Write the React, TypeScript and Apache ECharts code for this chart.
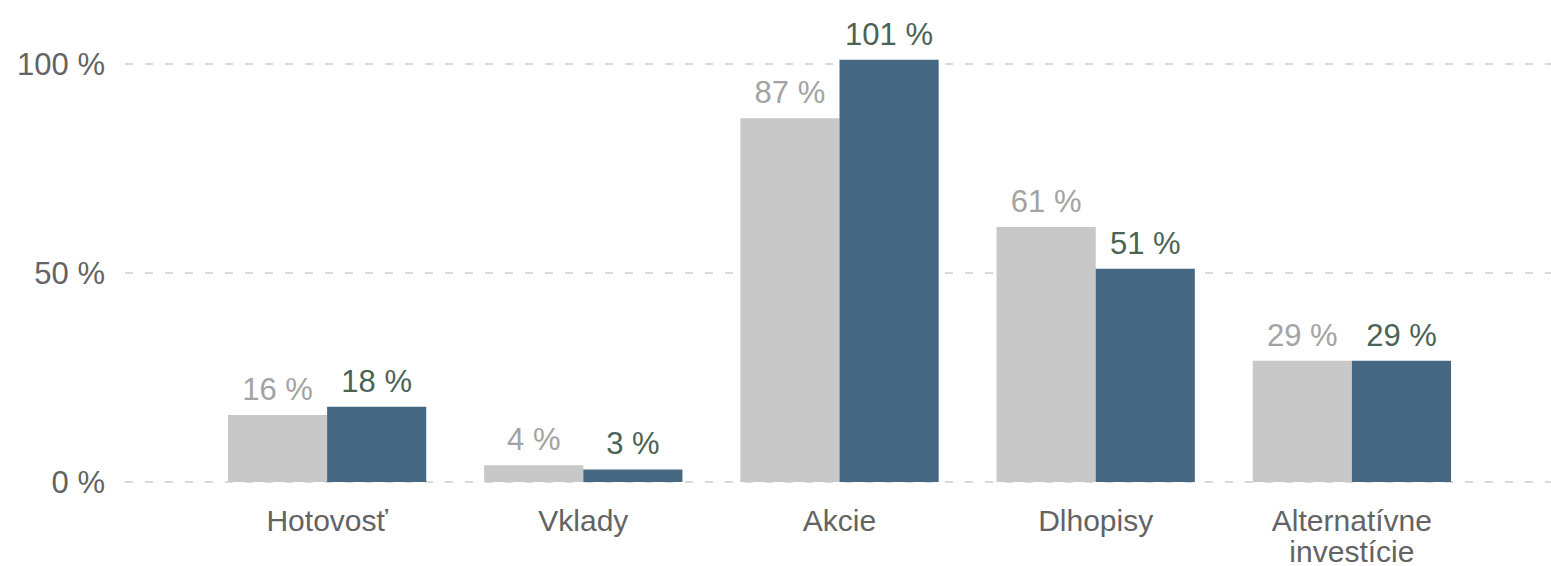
import React, { useEffect, useRef } from "react";
import * as echarts from "echarts";

const categories = ["Hotovosť", "Vklady", "Akcie", "Dlhopisy", "Alternatívne\ninvestície"];
const seriesGrey = [16, 4, 87, 61, 29];
const seriesBlue = [18, 3, 101, 51, 29];
const yTicks = { min: 0, max: 100, interval: 50 };

export default function App() {
  const ref = useRef<HTMLDivElement>(null);
  useEffect(() => {
    document.body.style.margin = "0";
    const chart = echarts.init(ref.current!, null, { renderer: "svg" });
    const font = "Liberation Sans, Arial, sans-serif";
    chart.setOption({
      animation: false,
      backgroundColor: "#ffffff",
      textStyle: { fontFamily: font },
      grid: [
        { left: 199, right: 71, top: 64, bottom: 84, containLabel: false, outerBoundsMode: "none" },
        { left: 125, right: 0, top: 64, bottom: 84, containLabel: false, outerBoundsMode: "none" },
      ],
      xAxis: [
        {
          type: "category",
          gridIndex: 0,
          data: categories,
          axisLine: { show: false },
          axisTick: { show: false },
          axisLabel: {
            color: "#636363",
            fontSize: 30,
            fontFamily: font,
            margin: 23,
            lineHeight: 31,
            interval: 0,
          },
        },
        { type: "value", gridIndex: 1, min: 0, max: 1, show: false },
      ],
      yAxis: [
        {
          type: "value",
          gridIndex: 0,
          ...yTicks,
          show: false,
          splitLine: { show: false },
        },
        {
          type: "value",
          gridIndex: 1,
          ...yTicks,
          axisLine: { show: false },
          axisTick: { show: false },
          axisLabel: {
            formatter: "{value} %",
            color: "#636363",
            fontSize: 31,
            fontFamily: font,
            margin: 20,
          },
          splitLine: {
            show: true,
            lineStyle: { color: "#d9d9d9", width: 2, type: [8, 12] },
          },
        },
      ],
      series: [
        {
          type: "bar",
          xAxisIndex: 0,
          yAxisIndex: 0,
          data: seriesGrey,
          clip: false,
          barGap: "0%",
          barCategoryGap: "22.6%",
          itemStyle: { color: "#c8c8c8" },
          label: {
            show: true,
            position: "top",
            distance: 10,
            formatter: "{c} %",
            color: "#a3a3a3",
            fontSize: 31,
            fontFamily: font,
          },
        },
        {
          type: "bar",
          xAxisIndex: 0,
          yAxisIndex: 0,
          data: seriesBlue,
          clip: false,
          barGap: "0%",
          barCategoryGap: "22.6%",
          itemStyle: { color: "#466882" },
          label: {
            show: true,
            position: "top",
            distance: 10,
            formatter: "{c} %",
            color: "#4b6354",
            fontSize: 31,
            fontFamily: font,
          },
        },
      ],
    });
    return () => chart.dispose();
  }, []);
  return <div ref={ref} style={{ width: 1551, height: 566 }} />;
}
